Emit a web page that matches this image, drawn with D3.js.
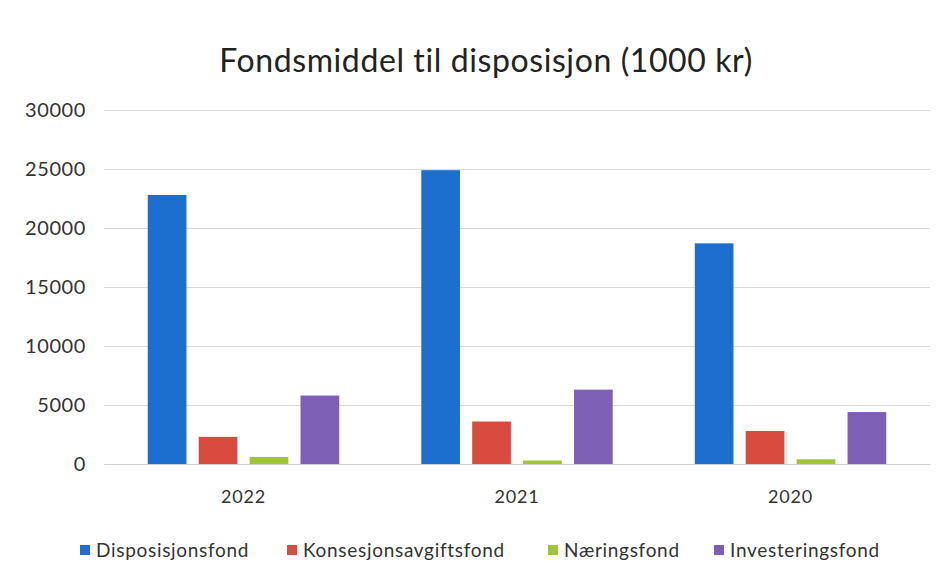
<!DOCTYPE html>
<html><head><meta charset="utf-8">
<script src="https://cdn.jsdelivr.net/npm/d3@7"></script>
<style>body{margin:0;background:#fff}svg{display:block}text{font-family:Lato,"Open Sans",sans-serif}</style>
</head><body><svg width="952" height="587"></svg>
<script>
const categories = ["2022","2021","2020"];
const seriesNames = ["Disposisjonsfond","Konsesjonsavgiftsfond","Næringsfond","Investeringsfond"];
const disposisjonsfond = [22800, 24900, 18700];
const konsesjonsavgiftsfond = [2300, 3600, 2800];
const naeringsfond = [600, 300, 400];
const investeringsfond = [5800, 6300, 4400];
const yTicks = [0,5000,10000,15000,20000,25000,30000];
const colors = ["#1c6fcf","#d84b3e","#a0c43c","#7d5fb5"];
const title = "Fondsmiddel til disposisjon (1000 kr)";

const values = [disposisjonsfond, konsesjonsavgiftsfond, naeringsfond, investeringsfond];
const svg = d3.select("svg");
const m = {l:104, r:22, t:110, b:123};
const W = 952, H = 587;
const x0 = d3.scaleBand().domain(categories).range([m.l, W-m.r]).paddingInner(0.3).paddingOuter(0.16);
const x1 = d3.scaleBand().domain(seriesNames).range([0, x0.bandwidth()]).paddingInner(0.24);
const y = d3.scaleLinear().domain([0,30000]).range([H-m.b, m.t]);

svg.append("text").attr("x", 486).attr("y", 72).attr("text-anchor","middle")
  .attr("font-size", 32).attr("letter-spacing", 0.6).attr("fill","#222").text(title);

const ga = svg.append("g").attr("transform",`translate(${m.l},0)`)
  .call(d3.axisLeft(y).tickValues(yTicks).tickSize(-(W-m.l-m.r)).tickPadding(18).tickFormat(d3.format("d")));
ga.select(".domain").remove();
ga.selectAll(".tick line").attr("stroke","#dadada");
ga.selectAll(".tick text").attr("font-size",20).attr("letter-spacing",0.6).attr("fill","#333");

const gx = svg.append("g").attr("transform",`translate(0,${H-m.b})`)
  .call(d3.axisBottom(x0).tickSize(0).tickPadding(26));
gx.select(".domain").attr("stroke","#d0d0d0");
gx.selectAll(".tick text").attr("font-size",18).attr("letter-spacing",0.8).attr("fill","#333");

categories.forEach((c,ci)=>{
  seriesNames.forEach((s,si)=>{
    const v = values[si][ci];
    svg.append("rect").attr("x", x0(c)+x1(s)).attr("width", x1.bandwidth())
      .attr("y", y(v)).attr("height", y(0)-y(v)).attr("fill", colors[si]);
  });
});

const legend = svg.append("g").attr("transform","translate(0,551)");
const legX = [80, 287, 548, 714];
seriesNames.forEach((s,i)=>{
  const g = legend.append("g").attr("transform",`translate(${legX[i]},0)`);
  g.append("rect").attr("x",0).attr("y",-6).attr("width",10).attr("height",10).attr("fill",colors[i]);
  g.append("text").attr("x",16).attr("y",6).attr("font-size",19).attr("letter-spacing",0.7).attr("fill","#333").text(s);
});
</script></body></html>
